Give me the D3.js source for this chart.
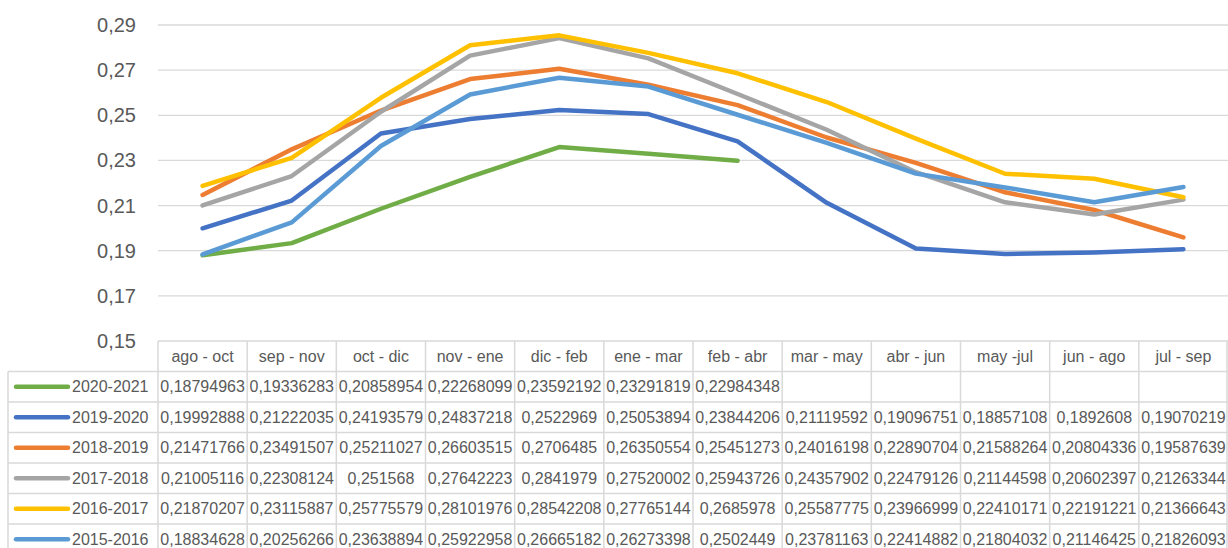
<!DOCTYPE html>
<html>
<head>
<meta charset="utf-8">
<script src="https://cdn.jsdelivr.net/npm/d3@7"></script>
<style>
  body { margin: 0; background: #fff; }
  svg text { font-family: "Liberation Sans", Arial, sans-serif; fill: #595959; }
</style>
</head>
<body>
<svg id="chart"></svg>
<script>
// periods
const periods = ["ago - oct", "sep - nov", "oct - dic", "nov - ene", "dic - feb", "ene - mar",
                 "feb - abr", "mar - may", "abr - jun", "may -jul", "jun - ago", "jul - sep"]

// seasons, same order as the table rows
const seasons = ["2020-2021", "2019-2020", "2018-2019", "2017-2018", "2016-2017", "2015-2016"]
const colors  = ["#70AD47", "#4472C4", "#ED7D31", "#A5A5A5", "#FFC000", "#5B9BD5"]

const s2020 = [0.18794963, 0.19336283, 0.20858954, 0.22268099, 0.23592192, 0.23291819, 0.22984348,
               null, null, null, null, null]
const s2019 = [0.19992888, 0.21222035, 0.24193579, 0.24837218, 0.2522969, 0.25053894, 0.23844206,
               0.21119592, 0.19096751, 0.18857108, 0.1892608, 0.19070219]
const s2018 = [0.21471766, 0.23491507, 0.25211027, 0.26603515, 0.2706485, 0.26350554, 0.25451273,
               0.24016198, 0.22890704, 0.21588264, 0.20804336, 0.19587639]
const s2017 = [0.21005116, 0.22308124, 0.251568, 0.27642223, 0.2841979, 0.27520002, 0.25943726,
               0.24357902, 0.22479126, 0.21144598, 0.20602397, 0.21263344]
const s2016 = [0.21870207, 0.23115887, 0.25775579, 0.28101976, 0.28542208, 0.27765144, 0.2685978,
               0.25587775, 0.23966999, 0.22410171, 0.22191221, 0.21366643]
const s2015 = [0.18834628, 0.20256266, 0.23638894, 0.25922958, 0.26665182, 0.26273398, 0.2502449,
               0.23781163, 0.22414882, 0.21804032, 0.21146425, 0.21826093]

const yTicks = [0.15, 0.17, 0.19, 0.21, 0.23, 0.25, 0.27, 0.29]

const series = [s2020, s2019, s2018, s2017, s2016, s2015]

const W = 1228, H = 548
const svg = d3.select("#chart").attr("width", W).attr("height", H)

const x = d3.scaleBand().domain(periods).range([158, 1228])
const y = d3.scaleLinear().domain([0.15, 0.29]).range([341, 25])

const fmt = v => String(v).replace(".", ",")

//gridlines
svg.append("g")
   .selectAll("line")
   .data(yTicks.slice(1))
   .join("line")
   .attr("x1", 158)
   .attr("x2", 1228)
   .attr("y1", d => y(d))
   .attr("y2", d => y(d))
   .attr("stroke", "#d9d9d9")
   .attr("stroke-width", 1.3)

//y labels
svg.append("g")
   .selectAll("text")
   .data(yTicks)
   .join("text")
   .attr("x", 136)
   .attr("y", d => y(d))
   .attr("dy", "0.35em")
   .attr("text-anchor", "end")
   .attr("font-size", 20)
   .text(d => fmt(d.toFixed(2)))

//lines
const line = d3.line()
               .defined(d => d != null)
               .x((d, i) => x(periods[i]) + x.bandwidth() / 2)
               .y(d => y(d))

svg.append("g")
   .selectAll("path")
   .data(series)
   .join("path")
   .attr("d", d => line(d))
   .attr("fill", "none")
   .attr("stroke", (d, i) => colors[i])
   .attr("stroke-width", 4.5)
   .attr("stroke-linejoin", "round")
   .attr("stroke-linecap", "round")

//data table
const rowH = 30.5
const headTop = 341
const tableLeft = 8
const tbl = svg.append("g")
const gridCol = "#d9d9d9"

// header horizontal line + row lines
tbl.append("line")
   .attr("x1", 158).attr("x2", W)
   .attr("y1", headTop).attr("y2", headTop)
   .attr("stroke", gridCol).attr("stroke-width", 1.5)

tbl.selectAll("line.row")
   .data(d3.range(seasons.length + 1))
   .join("line")
   .attr("class", "row")
   .attr("x1", tableLeft).attr("x2", W)
   .attr("y1", i => headTop + rowH * (i + 1))
   .attr("y2", i => headTop + rowH * (i + 1))
   .attr("stroke", gridCol).attr("stroke-width", 1.5)

// vertical lines
tbl.selectAll("line.col")
   .data(periods.concat(["__end"]))
   .join("line")
   .attr("class", "col")
   .attr("x1", (d, i) => i < periods.length ? x(d) : W - 1)
   .attr("x2", (d, i) => i < periods.length ? x(d) : W - 1)
   .attr("y1", headTop)
   .attr("y2", H)
   .attr("stroke", gridCol).attr("stroke-width", 1.5)

tbl.append("line")
   .attr("x1", tableLeft).attr("x2", tableLeft)
   .attr("y1", headTop + rowH).attr("y2", H)
   .attr("stroke", gridCol).attr("stroke-width", 1.5)

// header labels
tbl.selectAll("text.head")
   .data(periods)
   .join("text")
   .attr("class", "head")
   .attr("x", d => x(d) + x.bandwidth() / 2)
   .attr("y", headTop + rowH / 2)
   .attr("dy", "0.35em")
   .attr("text-anchor", "middle")
   .attr("font-size", 16)
   .text(d => d)

// rows
seasons.forEach((s, r) => {
    const cy = headTop + rowH * (r + 1) + rowH / 2
    tbl.append("line")
       .attr("x1", 16).attr("x2", 68)
       .attr("y1", cy).attr("y2", cy)
       .attr("stroke", colors[r])
       .attr("stroke-width", 4.5)
       .attr("stroke-linecap", "round")
    tbl.append("text")
       .attr("x", 72)
       .attr("y", cy)
       .attr("dy", "0.35em")
       .attr("font-size", 16)
       .text(s)
    tbl.append("g")
       .selectAll("text")
       .data(series[r])
       .join("text")
       .attr("x", (d, i) => x(periods[i]) + x.bandwidth() / 2)
       .attr("y", cy)
       .attr("dy", "0.35em")
       .attr("text-anchor", "middle")
       .attr("font-size", 16)
       .text(d => d == null ? "" : fmt(d))
})
</script>
</body>
</html>
